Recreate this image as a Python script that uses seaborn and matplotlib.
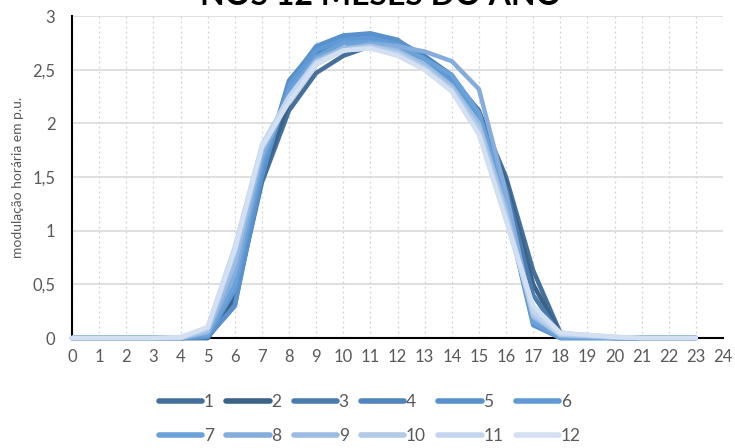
import numpy as np
import pandas as pd
import matplotlib
matplotlib.use("Agg")
import matplotlib.pyplot as plt
import seaborn as sns

hours = list(range(24))
months = [str(m) for m in range(1, 13)]

m1 = [0, 0, 0, 0, 0, 0.00, 0.35, 1.45, 2.12, 2.47, 2.63, 2.72, 2.70, 2.60, 2.40, 2.10, 1.50, 0.63, 0.05, 0.02, 0, 0, 0, 0]
m2 = [0, 0, 0, 0, 0, 0.00, 0.40, 1.50, 2.20, 2.55, 2.70, 2.75, 2.72, 2.60, 2.42, 2.12, 1.45, 0.50, 0.04, 0.02, 0, 0, 0, 0]
m3 = [0, 0, 0, 0, 0, 0.01, 0.45, 1.55, 2.30, 2.65, 2.75, 2.78, 2.75, 2.62, 2.42, 2.10, 1.40, 0.40, 0.03, 0.02, 0, 0, 0, 0]
m4 = [0, 0, 0, 0, 0, 0.01, 0.30, 1.55, 2.40, 2.70, 2.80, 2.82, 2.77, 2.63, 2.45, 2.10, 1.30, 0.20, 0.02, 0.01, 0, 0, 0, 0]
m5 = [0, 0, 0, 0, 0, 0.01, 0.30, 1.50, 2.38, 2.72, 2.82, 2.84, 2.78, 2.60, 2.40, 2.05, 1.20, 0.12, 0.00, 0.00, 0, 0, 0, 0]
m6 = [0, 0, 0, 0, 0, 0.02, 0.45, 1.60, 2.35, 2.68, 2.78, 2.80, 2.74, 2.60, 2.38, 2.05, 1.20, 0.15, 0.00, 0.00, 0, 0, 0, 0]
m7 = [0, 0, 0, 0, 0, 0.03, 0.50, 1.65, 2.30, 2.62, 2.75, 2.76, 2.72, 2.60, 2.45, 2.10, 1.25, 0.15, 0.00, 0.00, 0, 0, 0, 0]
m8 = [0, 0, 0, 0, 0, 0.05, 0.60, 1.70, 2.25, 2.60, 2.70, 2.74, 2.72, 2.67, 2.58, 2.32, 1.35, 0.20, 0.02, 0.01, 0, 0, 0, 0]
m9 = [0, 0, 0, 0, 0, 0.06, 0.70, 1.75, 2.25, 2.58, 2.70, 2.72, 2.68, 2.55, 2.35, 2.00, 1.20, 0.20, 0.03, 0.02, 0, 0, 0, 0]
m10 = [0, 0, 0, 0, 0, 0.08, 0.80, 1.78, 2.22, 2.55, 2.68, 2.72, 2.66, 2.52, 2.32, 1.95, 1.15, 0.22, 0.03, 0.02, 0.01, 0, 0, 0]
m11 = [0, 0, 0, 0, 0, 0.10, 0.85, 1.80, 2.25, 2.57, 2.68, 2.70, 2.64, 2.50, 2.30, 1.90, 1.10, 0.25, 0.04, 0.03, 0.01, 0, 0, 0]
m12 = [0, 0, 0, 0, 0.01, 0.10, 0.82, 1.78, 2.20, 2.55, 2.68, 2.70, 2.63, 2.50, 2.30, 1.90, 1.10, 0.30, 0.05, 0.03, 0.01, 0, 0, 0]

series = [m1, m2, m3, m4, m5, m6, m7, m8, m9, m10, m11, m12]

palette = ["#44709b", "#3b6388", "#4a7cae", "#4f85bd", "#5891cb", "#5f9ad6",
           "#6aa1d9", "#84addd", "#9cbde3", "#b0cae8", "#c3d5ee", "#d3e0f2"]

xticks = list(range(0, 25))
yticks = [0, 0.5, 1, 1.5, 2, 2.5, 3]
ytick_labels = ["0", "0,5", "1", "1,5", "2", "2,5", "3"]

df = pd.DataFrame({
    "hora": np.tile(hours, len(months)),
    "mes": np.repeat(months, len(hours)),
    "valor": np.concatenate(series),
})

sns.set_theme(style="white")
plt.rcParams["font.family"] = ["Lato", "DejaVu Sans"]

fig = plt.figure(figsize=(7.35, 4.48), dpi=100)
ax = fig.add_axes([0.098, 0.2455, 0.8857, 0.7185])

sns.lineplot(data=df, x="hora", y="valor", hue="mes", hue_order=months,
             palette=palette, linewidth=3.2, ax=ax, legend=True,
             solid_capstyle="round", solid_joinstyle="round")
# let the lines lying on zero show at full width over the axis
for ln in ax.lines:
    ln.set_clip_on(False)

ax.set_xlim(0, 24)
ax.set_ylim(0, 3)
ax.set_xticks(xticks)
ax.set_xticklabels([str(t) for t in xticks])
ax.set_yticks(yticks)
ax.set_yticklabels(ytick_labels)
ax.tick_params(axis="both", length=0, labelsize=12, colors="#595959", pad=8)
ax.tick_params(axis="y", pad=12)

ax.set_xlabel("")
ax.set_ylabel("modulação horária em p.u.", fontsize=10, color="#595959", labelpad=6)

ax.yaxis.grid(True, color="#d9d9d9", linewidth=1.2, linestyle="-")
ax.xaxis.grid(True, color="#d0d0d0", linewidth=0.9, linestyle=(0, (1.5, 2.5)))
ax.set_axisbelow(True)

for side in ["top", "right"]:
    ax.spines[side].set_visible(False)
ax.spines["left"].set_color("black")
ax.spines["left"].set_linewidth(1.5)
ax.spines["bottom"].set_color("black")
ax.spines["bottom"].set_linewidth(1.5)
ax.spines["left"].set_zorder(1)
ax.spines["bottom"].set_zorder(1)

# Legend in two rows, filled row by row (months 1-6, then 7-12)
handles, labels = ax.get_legend_handles_labels()
ax.get_legend().remove()
for h in handles:
    h.set_linewidth(4)
    h.set_solid_capstyle("round")
ncol = 6
order = [r * ncol + c for c in range(ncol) for r in range(2)]
fig.legend([handles[i] for i in order], [labels[i] for i in order],
           loc="center", ncol=ncol, bbox_to_anchor=(0.503, 0.064),
           frameon=False, fontsize=12.5, handlelength=2.5, handletextpad=0.1,
           columnspacing=0.7, labelcolor="#595959", labelspacing=1.05,
           borderpad=0, borderaxespad=0)

fig.text(0.518, 0.989, "NOS 12 MESES DO ANO", ha="center", va="baseline",
         fontsize=23, fontweight="bold", color="black")

fig.savefig("out.png", dpi=100)
